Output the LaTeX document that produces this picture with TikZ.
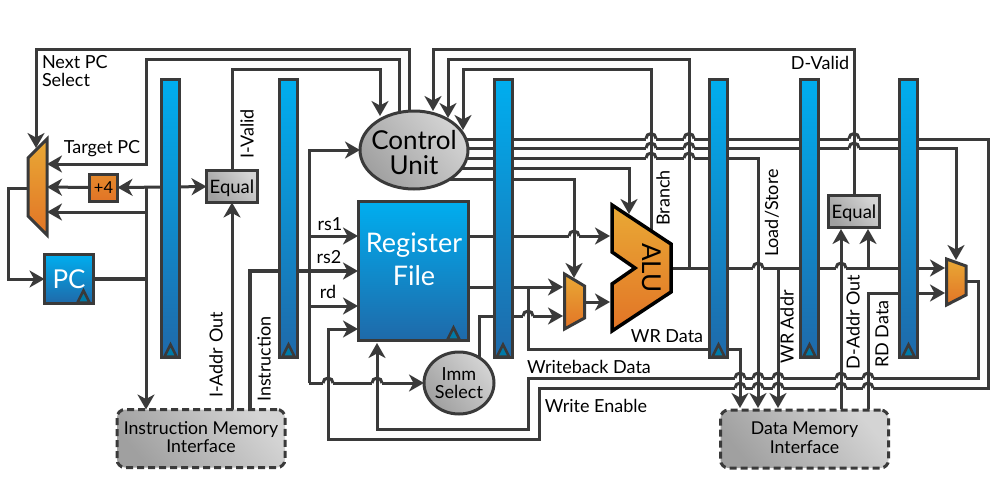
\documentclass[tikz,border=0pt]{standalone}
\usepackage{fontspec}
\setmainfont{Lato}
\usetikzlibrary{arrows.meta,shapes.geometric}
\definecolor{wirecol}{HTML}{3A3A3A}
\definecolor{bluetop}{HTML}{00AEEF}
\definecolor{bluebot}{HTML}{1F69A9}
\definecolor{oratop}{HTML}{E9A935}
\definecolor{orabot}{HTML}{E27426}
\definecolor{graydark}{HTML}{A0A0A0}
\definecolor{graylite}{HTML}{D4D4D4}
\pgfdeclarelayer{background layer}
\pgfsetlayers{background layer,main}
\tikzset{
  wire/.style={draw=wirecol,line width=3pt},
  wirearrow/.style={wire,-{Stealth[length=15pt,width=17pt,inset=4.5pt]}},
  boxline/.style={draw=wirecol,line width=3pt,inner sep=0pt,outer sep=0pt},
  pipebar/.style={boxline,minimum width=18pt,minimum height=278pt,top color=bluetop,bottom color=bluebot},
  bluebox/.style={boxline,top color=bluetop,bottom color=bluebot,text=white},
  grayfill/.style={boxline,top color=graylite,bottom color=graydark,shading angle=-50},
  equalbox/.style={grayfill,minimum width=51pt,minimum height=32pt,text height=16pt,text depth=1.5pt,font=\fontsize{18.5}{17}\selectfont},
  orangefill/.style={draw=wirecol,line width=3pt,line join=miter,top color=oratop,bottom color=orabot},
  clocktri/.style={draw=wirecol,line width=2.5pt,fill=bluetop!70!black},
  memface/.style={grayfill,dashed,dash pattern=on 7pt off 4pt,rounded corners=8pt,minimum height=58pt,minimum width=168pt},
  memtext/.style={inner sep=0pt,align=center,font=\fontsize{17.7}{18.5}\selectfont},
  tag/.style={inner sep=0pt,outer sep=0pt,font=\fontsize{18}{18.5}\selectfont},
  bigtext/.style={font=\fontsize{26}{25}\selectfont,align=center}
}
\begin{document}
\begin{tikzpicture}[x=1pt,y=-1pt]
  \useasboundingbox (0,0) rectangle (998,490);

  % pipeline registers
  \node[pipebar] (barA) at (170.5,218.5) {};
  \node[pipebar] (barB) at (288.5,218.5) {};
  \node[pipebar] (barC) at (503,218.5) {};
  \node[pipebar] (barD) at (718.5,218.5) {};
  \node[pipebar] (barE) at (809.5,218.5) {};
  \node[pipebar] (barF) at (908.5,218.5) {};
  \foreach \bar in {barA,barB,barC,barD,barE,barF}
    \draw[clocktri] (\bar.south) ++(-6,-1) -- ++(6,-12) -- ++(6,12) -- cycle;

  % blocks
  \node[bluebox,minimum width=49pt,minimum height=49pt,bigtext] (pc) at (69,279) {PC};
  \draw[clocktri] (pc.south east) ++(-16,-1) -- ++(6,-12) -- ++(6,12) -- cycle;
  \node[boxline,top color=oratop!40!orabot,bottom color=orabot,minimum width=28pt,minimum height=27pt,font=\fontsize{16.5}{16}\selectfont] (plusfour) at (103.5,187.5) {+4};
  \node[equalbox] (equalF) at (232,186.5) {Equal};
  \node[equalbox] (equalM) at (854,211.5) {Equal};
  \node[grayfill,ellipse,minimum width=108pt,minimum height=78pt] (cu) at (414,150) {};
  \node[inner sep=0pt,bigtext] (culabel) at (414,153) {Control\\Unit};
  \node[bluebox,minimum width=110pt,minimum height=139pt] (rf) at (413.5,271) {};
  \node[inner sep=0pt,text=white,bigtext,font=\fontsize{27}{33}\selectfont] (rflabel) at (414,259) {Register\\File};
  \draw[clocktri] (rf.south east) ++(-21,-1) -- ++(6,-12) -- ++(6,12) -- cycle;
  \node[grayfill,ellipse,minimum width=70pt,minimum height=62pt,align=center,font=\fontsize{18}{18}\selectfont] (imm) at (459,383) {Imm\\Select};
  \node[memface] (imem) at (201,438.5) {};
  \node[memtext] (imemlabel) at (201,437) {Instruction Memory\\Interface};
  \node[memface] (dmem) at (804.5,439) {};
  \node[memtext] (dmemlabel) at (804.5,437.5) {Data Memory\\Interface};

  % muxes and alu
  \draw[orangefill] (47,139) -- (47,235) -- (28,216) -- (28,158) -- cycle;
  \draw[orangefill] (564.5,274) -- (584.5,286) -- (584.5,318) -- (564.5,329) -- cycle;
  \draw[orangefill] (946.5,259) -- (966,266) -- (966,295) -- (946.5,305) -- cycle;
  \draw[orangefill,draw=black,line width=3.5pt] (612,205) -- (671,244) -- (671,292) -- (612,331) -- (612,284) -- (635,268) -- (612,252) -- cycle;
  \node[bigtext,inner sep=0pt,rotate=-90] (alu) at (652,268) {ALU};

  % ports
  \coordinate (railA) at (0,49);
  \coordinate (railB) at (0,59);
  \coordinate (railC) at (0,69);
  \coordinate (cuNext) at (409,115);
  \coordinate (cuTarget) at (399,115);
  \coordinate (cuValid) at (380,116);
  \coordinate (cuDvalid) at (433,111);
  \coordinate (cuAlu) at (448,118);
  \coordinate (cuBranch) at (463,130);
  \coordinate (cuOutA) at (440,139);
  \coordinate (cuOutB) at (440,148);
  \coordinate (cuOutC) at (440,158);
  \coordinate (cuOutD) at (440,168);
  \coordinate (cuOutE) at (440,179);
  \coordinate (pcjoin) at (146,279);
  \coordinate (fetch) at (170,187);
  \coordinate (muxNext) at (36,148);
  \coordinate (muxTarget) at (47,164);
  \coordinate (muxPlus) at (47,187);
  \coordinate (muxPc) at (47,212);
  \coordinate (muxOut) at (28,188);
  \coordinate (muxLeft) at (8,188);
  \coordinate (instrOut) at (250,408);
  \coordinate (decode) at (309,383);
  \coordinate (rfRsA) at (358,236);
  \coordinate (rfRsB) at (358,271);
  \coordinate (rfRd) at (358,306);
  \coordinate (rfWe) at (358,329);
  \coordinate (rfWb) at (377,343);
  \coordinate (rfOutA) at (460,236);
  \coordinate (rfOutB) at (460,287);
  \coordinate (aluA) at (610,236);
  \coordinate (aluB) at (610,302);
  \coordinate (aluCtl) at (629,214);
  \coordinate (aluBranch) at (651,232);
  \coordinate (aluOut) at (671,268);
  \coordinate (amuxA) at (563,287);
  \coordinate (amuxB) at (563,316);
  \coordinate (amuxCtl) at (574,278);
  \coordinate (amuxOut) at (585,302);
  \coordinate (immOut) at (479,365);
  \coordinate (wrStart) at (528,287);
  \coordinate (wrBend) at (600,349);
  \coordinate (dmData) at (740,408);
  \coordinate (dmLoad) at (758,408);
  \coordinate (dmAddr) at (778,408);
  \coordinate (dmOutA) at (841,409);
  \coordinate (dmOutB) at (868,409);
  \coordinate (aluBack) at (689,268);
  \coordinate (addrTap) at (778,268);
  \coordinate (eqTap) at (868,268);
  \coordinate (eqInA) at (841,229);
  \coordinate (eqInB) at (868,229);
  \coordinate (wmuxA) at (945,268);
  \coordinate (wmuxB) at (945,293);
  \coordinate (wmuxCtl) at (956,260);
  \coordinate (wmuxOut) at (966,281);
  \coordinate (wbRight) at (978,378);
  \coordinate (wbLeft) at (528,429);
  \coordinate (weRight) at (988,388);
  \coordinate (weLeft) at (539,439);
  \coordinate (weBend) at (328,329);

  \begin{pgfonlayer}{background layer}
    % fetch
    \draw[wirearrow] (cuNext) |- (muxNext |- railA) -- (muxNext);
    \draw[wirearrow] (cuTarget) |- (pcjoin |- railB) |- (muxTarget);
    \draw[wirearrow] (equalF.north) |- (cuValid |- railC) -- (cuValid);
    \draw[wirearrow] (plusfour.west) -- (muxPlus);
    \draw[wirearrow] (fetch) -- (plusfour.east);
    \draw[wirearrow] (fetch) -- (equalF.west);
    \draw[wire,line width=3.6pt] (pc.east) -- (pcjoin);
    \draw[wire] (pcjoin) -- (pcjoin |- fetch);
    \draw[wirearrow] (pcjoin |- muxPc) -- (muxPc);
    \draw[wirearrow] (pcjoin) -- (pcjoin |- imem.north);
    \draw[wirearrow] (muxOut) -- (muxLeft) |- (pc.west);
    \draw[wirearrow] (equalF.south |- imem.north) -- (equalF.south);
    % decode
    \draw[wirearrow,line width=3.6pt] (instrOut) |- (rfRsB);
    \draw[wirearrow] (decode) |- (cu.west);
    \draw[wirearrow] (rfRsA -| decode) -- (rfRsA);
    \draw[wirearrow] (rfRd -| decode) -- (rfRd);
    \draw[wirearrow] (decode) -- (imm.west);
    % execute
    \draw[wirearrow] (rfOutA) -- (aluA);
    \draw[wirearrow] (rfOutB) -- (amuxA);
    \draw[wirearrow] (immOut) |- (amuxB);
    \draw[wirearrow] (amuxOut) -- (aluB);
    \draw[wirearrow] (cuOutD) -| (aluCtl);
    \draw[wirearrow] (cuOutE) -| (amuxCtl);
    \draw[wirearrow] (aluBranch) |- (cuBranch |- railC) -- (cuBranch);
    \draw[wirearrow] (aluOut) -- (wmuxA);
    \draw[wirearrow] (aluBack) |- (cuAlu |- railB) -- (cuAlu);
    \draw[wirearrow] (wrStart) |- (wrBend) -| (dmData);
    % memory
    \draw[wirearrow] (cuOutC) -| (dmLoad);
    \draw[wirearrow] (addrTap) -- (dmAddr);
    \draw[wirearrow] (eqTap) -- (eqInB);
    \draw[wirearrow] (dmOutA) -- (eqInA);
    \draw[wirearrow] (dmOutB) |- (wmuxB);
    \draw[wirearrow] (equalM.north) |- (cuDvalid |- railA) -- (cuDvalid);
    % writeback
    \draw[wirearrow] (cuOutB) -| (wmuxCtl);
    \draw[wirearrow] (wmuxOut) -| (wbRight) -| (wbLeft) -| (rfWb);
    \draw[wirearrow] (cuOutA) -| (weRight) -| (weLeft) -| (weBend) -- (rfWe);
    % hops
    \foreach \hx/\hy in {651/138.5,689/138.5,854/138.5,651/148,689/148,854/148,651/158,689/158,
                         574/236,528/316,328/383,377/383,758/268,841/268,
                         740/378,758/378,778/378,841/378,868/378,
                         740/388,758/388,778/388,841/388,868/388} {
      \fill[white] (\hx-5,\hy-2) rectangle (\hx+5,\hy+2);
      \draw[wire] (\hx,\hy-5) -- (\hx,\hy+5);
      \draw[wire] (\hx-5,\hy) arc[start angle=180,end angle=0,radius=5pt];
    }
  \end{pgfonlayer}

  % labels
  \node[tag,align=left,anchor=west] (nextlabel) at (42,71) {Next PC\\Select};
  \node[tag] (targetlabel) at (102,149) {Target PC};
  \node[tag,rotate=90] (ivalidlabel) at (247,134) {I-Valid};
  \node[tag,rotate=90] (iaddrlabel) at (216,355) {I-Addr Out};
  \node[tag,rotate=90] (instrlabel) at (264,359) {Instruction};
  \node[tag] (rsAlabel) at (330,224) {rs1};
  \node[tag] (rsBlabel) at (329,257) {rs2};
  \node[tag] (rdlabel) at (328,292) {rd};
  \node[tag,rotate=90] (branchlabel) at (663,198) {Branch};
  \node[tag] (wrdatalabel) at (667,336) {WR Data};
  \node[tag] (wblabel) at (589,367) {Writeback Data};
  \node[tag] (welabel) at (596,406) {Write Enable};
  \node[tag] (dvalidlabel) at (820,63) {D-Valid};
  \node[tag,rotate=90] (loadlabel) at (772,213) {Load/Store};
  \node[tag,rotate=90] (wraddrlabel) at (787,327) {WR Addr};
  \node[tag,rotate=90] (daddrlabel) at (853,322) {D-Addr Out};
  \node[tag,rotate=90] (rddatalabel) at (882,334) {RD Data};
\end{tikzpicture}
\end{document}
